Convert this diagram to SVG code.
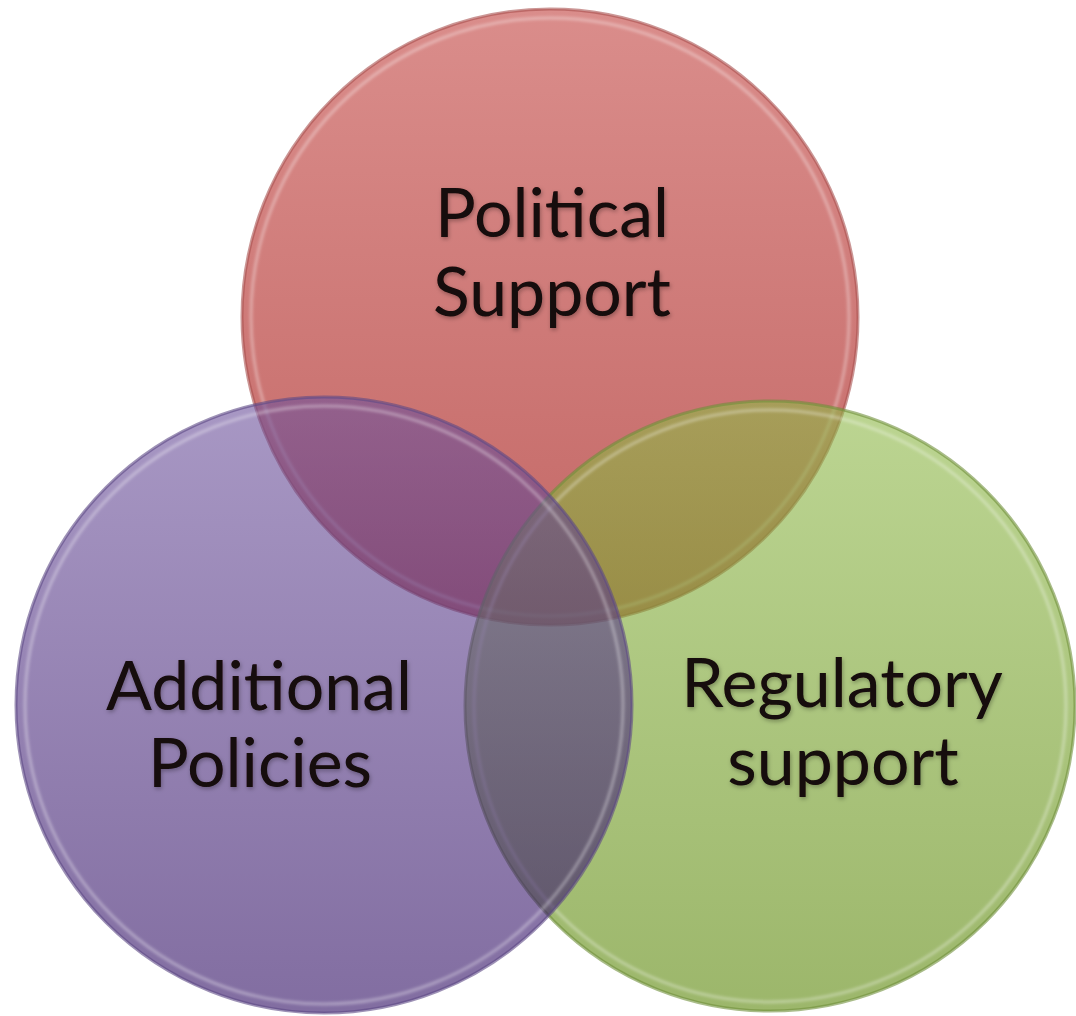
<svg xmlns="http://www.w3.org/2000/svg" width="1076" height="1016" viewBox="0 0 1076 1016">
<defs>
<linearGradient id="gRed" x1="0" y1="0" x2="0" y2="1">
<stop offset="0" stop-color="#da8d8b"/>
<stop offset="1" stop-color="#c36765"/>
</linearGradient>
<linearGradient id="gGreen" x1="0" y1="0" x2="0" y2="1">
<stop offset="0" stop-color="#8fb949"/>
<stop offset="1" stop-color="#5a8608"/>
</linearGradient>
<linearGradient id="gPurple" x1="0" y1="0" x2="0" y2="1">
<stop offset="0" stop-color="#6e539d"/>
<stop offset="1" stop-color="#2e0c62"/>
</linearGradient>
<filter id="soft" x="-5%" y="-5%" width="110%" height="110%">
<feGaussianBlur stdDeviation="1.5"/>
</filter>
<filter id="tshadow" x="-10%" y="-20%" width="120%" height="140%">
<feDropShadow dx="1" dy="2" stdDeviation="2" flood-color="#000" flood-opacity="0.3"/>
</filter>
</defs>
<style>
.disc{stroke-width:3;stroke-opacity:0.6}
.rim{fill:none;stroke:#ffffff;stroke-opacity:0.35;stroke-width:3}
.lbl{font-family:Lato,"Open Sans","Liberation Sans",sans-serif;font-size:68px;fill:#120808;text-anchor:middle}
</style>
<g id="node-political">
<circle class="disc" cx="550" cy="317" r="308" fill="url(#gRed)" stroke="#a8504e"/>
<circle class="rim" cx="550" cy="317" r="299" filter="url(#soft)"/>
</g>
<g id="node-regulatory">
<circle class="disc" cx="770" cy="706" r="305" fill="url(#gGreen)" fill-opacity="0.6" stroke="#6f8f3a"/>
<circle class="rim" cx="770" cy="706" r="296" filter="url(#soft)"/>
</g>
<g id="node-additional">
<circle class="disc" cx="324" cy="705" r="308" fill="url(#gPurple)" fill-opacity="0.6" stroke="#5e4a86"/>
<circle class="rim" cx="324" cy="705" r="299" filter="url(#soft)" stroke-opacity="0.45"/>
</g>
<g id="labels" filter="url(#tshadow)">
<text class="lbl" x="552" y="237">Political</text>
<text class="lbl" x="552" y="316">Support</text>
<text class="lbl" x="259" y="710">Additional</text>
<text class="lbl" x="260" y="787">Policies</text>
<text class="lbl" x="842" y="707">Regulatory</text>
<text class="lbl" x="843" y="785">support</text>
</g>
<g id="connectors"/>
</svg>
